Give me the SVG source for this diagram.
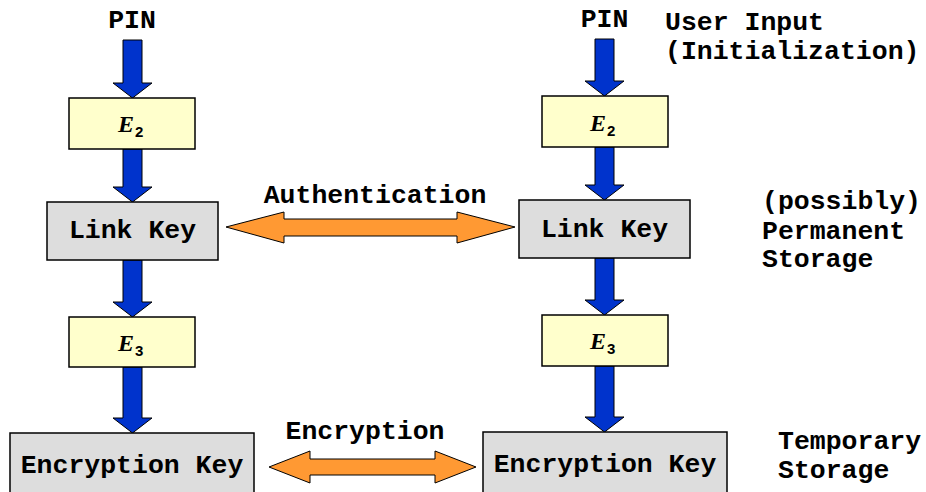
<svg xmlns="http://www.w3.org/2000/svg" width="926" height="492" viewBox="0 0 926 492">
<style>
.t{font-family:"Liberation Mono","Courier New",monospace;font-weight:bold;font-size:26.5px;fill:#000}
.e{font-family:"Liberation Serif","Times New Roman",serif;font-weight:bold;font-style:italic;font-size:24px;fill:#000}
.s{font-family:"Liberation Sans",Arial,sans-serif;font-weight:bold;font-size:15px;fill:#000}
.yb{fill:#FFFFCC;stroke:#000;stroke-width:1.5}
.gb{fill:#DDDDDD;stroke:#000;stroke-width:1.5}
.ba{fill:#0033CC;stroke:#000;stroke-width:1}
.oa{fill:#FF9933;stroke:#000;stroke-width:1}
</style>
<rect width="926" height="492" fill="#fff"/>
<g id="connectors">
<path class="ba" d="M123,40 H142 V83 H152 L132.5,98 L113,83 H123 Z"/>
<path class="ba" d="M123,149 H142 V187 H152 L132.5,202 L113,187 H123 Z"/>
<path class="ba" d="M123,260 H142 V302 H152 L132.5,317 L113,302 H123 Z"/>
<path class="ba" d="M123,367 H142 V418 H152 L132.5,433 L113,418 H123 Z"/>
<path class="ba" d="M595,39 H614 V81 H624 L604.5,96 L585,81 H595 Z"/>
<path class="ba" d="M595,147 H614 V185 H624 L604.5,200 L585,185 H595 Z"/>
<path class="ba" d="M595,258 H614 V300 H624 L604.5,315 L585,300 H595 Z"/>
<path class="ba" d="M595,366 H614 V417 H624 L604.5,432 L585,417 H595 Z"/>
<path class="oa" d="M226,227 L284,212 V219 H457 V212 L515,227 L457,243 V236 H284 V243 Z"/>
<path class="oa" d="M269,467 L310,451 V459 H435 V451 L476,467 L435,483 V475 H310 V483 Z"/>
<text class="t" x="375" y="203" text-anchor="middle">Authentication</text>
<text class="t" x="365" y="439" text-anchor="middle">Encryption</text>
</g>
<g id="pin-left"><text class="t" x="132" y="28" text-anchor="middle">PIN</text></g>
<g id="pin-right"><text class="t" x="604.5" y="27" text-anchor="middle">PIN</text></g>
<g id="e2-left">
<rect class="yb" x="69" y="98" width="126" height="51"/>
<text class="e" x="118" y="132">E</text><text class="s" x="135" y="137">2</text>
</g>
<g id="e2-right">
<rect class="yb" x="542" y="96" width="126" height="51"/>
<text class="e" x="590" y="131">E</text><text class="s" x="607" y="136">2</text>
</g>
<g id="linkkey-left">
<rect class="gb" x="47" y="202" width="171" height="58"/>
<text class="t" x="132.5" y="238" text-anchor="middle">Link Key</text>
</g>
<g id="linkkey-right">
<rect class="gb" x="519" y="200" width="171" height="58"/>
<text class="t" x="604.5" y="237" text-anchor="middle">Link Key</text>
</g>
<g id="e3-left">
<rect class="yb" x="69" y="317" width="126" height="50"/>
<text class="e" x="118" y="351">E</text><text class="s" x="135" y="356">3</text>
</g>
<g id="e3-right">
<rect class="yb" x="542" y="315" width="126" height="51"/>
<text class="e" x="590" y="349">E</text><text class="s" x="607" y="354">3</text>
</g>
<g id="enckey-left">
<rect class="gb" x="10" y="433" width="244" height="80"/>
<text class="t" x="132" y="473" text-anchor="middle">Encryption Key</text>
</g>
<g id="enckey-right">
<rect class="gb" x="483" y="432" width="244" height="80"/>
<text class="t" x="605" y="472" text-anchor="middle">Encryption Key</text>
</g>
<g id="label-user-input">
<text class="t" x="665" y="30">User Input</text>
<text class="t" x="665" y="59">(Initialization)</text>
</g>
<g id="label-permanent">
<text class="t" x="762" y="209">(possibly)</text>
<text class="t" x="762" y="239">Permanent</text>
<text class="t" x="762" y="267">Storage</text>
</g>
<g id="label-temporary">
<text class="t" x="778" y="449">Temporary</text>
<text class="t" x="778" y="478">Storage</text>
</g>
</svg>
